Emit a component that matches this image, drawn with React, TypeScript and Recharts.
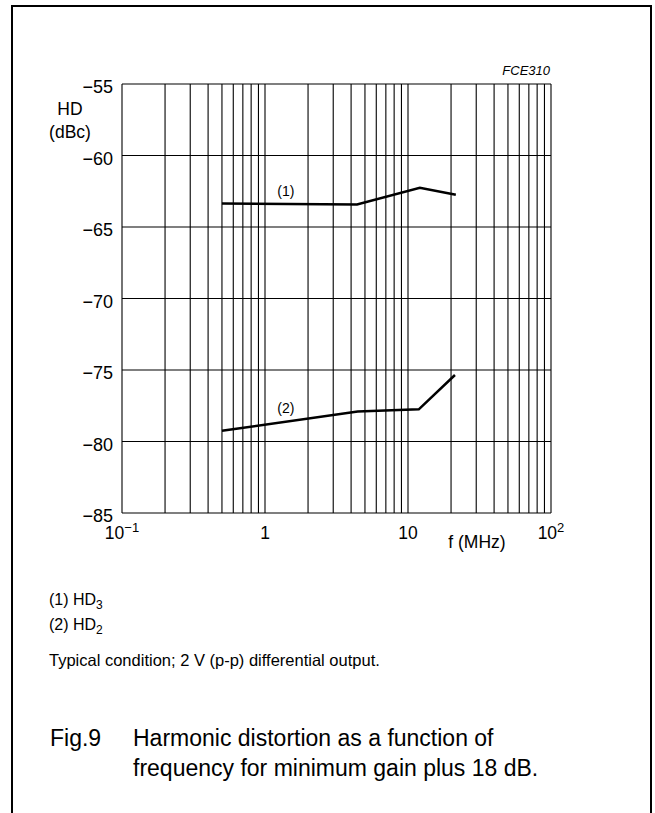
import React from 'react';
import { LineChart, Line, XAxis, YAxis, CartesianGrid, ReferenceDot } from 'recharts';

const FONT = '"Liberation Sans", Arial, Helvetica, sans-serif';

// frequency grid (MHz), log decades 0.1 .. 100
const freqTicks = [
  0.1, 0.2, 0.3, 0.4, 0.5, 0.6, 0.7, 0.8, 0.9,
  1, 2, 3, 4, 5, 6, 7, 8, 9,
  10, 20, 30, 40, 50, 60, 70, 80, 90,
  100,
];
const decadeTicks = [0.1, 1, 10, 100];
const decadeBase = ['10', '1', '10', '10'];
const decadeExp = ['\u22121', '', '', '2'];

const hdTicks = [-55, -60, -65, -70, -75, -80, -85];

// (1) HD3
const hd3Freq = [0.5, 4.4, 12.1, 21.6];
const hd3Values = [-63.35, -63.42, -62.25, -62.75];
// (2) HD2
const hd2Freq = [0.5, 4.45, 11.9, 21.3];
const hd2Values = [-79.25, -77.9, -77.75, -75.35];

const hd3Data = hd3Freq.map((f, i) => ({ f, hd: hd3Values[i] }));
const hd2Data = hd2Freq.map((f, i) => ({ f, hd: hd2Values[i] }));

function FreqTick(props: any) {
  const { x, y, payload } = props;
  const i = decadeTicks.indexOf(payload.value);
  if (i < 0) return <g />;
  return (
    <text x={x} y={y + 26} textAnchor="middle" fontSize={17.5} fontFamily={FONT} fill="#000">
      {decadeBase[i]}
      {decadeExp[i] && <tspan dy={-7} fontSize={13}>{decadeExp[i]}</tspan>}
    </text>
  );
}

function HdTick(props: any) {
  const { x, y, payload } = props;
  return (
    <text x={x - 9} y={y + 3} dy="0.355em" textAnchor="end" fontSize={18} fontFamily={FONT} fill="#000">
      {'\u2212' + Math.abs(payload.value)}
    </text>
  );
}

export default function App() {
  return (
    <div style={{ position: 'absolute', left: 0, top: 0, width: 655, height: 813, overflow: 'hidden', background: '#fff', fontFamily: FONT }}>
      <div style={{ position: 'absolute', left: 11, top: 5, width: 637, height: 810, borderTop: '2px solid #000', borderLeft: '2px solid #000', borderRight: '2px solid #000' }} />
      <LineChart
        width={655}
        height={813}
        margin={{ top: 84, right: 104, bottom: 260, left: 0 }}
        style={{ position: 'absolute', left: 0, top: 0, fontFamily: FONT }}
      >
        <CartesianGrid stroke="#000" strokeWidth={1.1} />
        <XAxis
          dataKey="f"
          type="number"
          scale="log"
          domain={[0.1, 100]}
          ticks={freqTicks}
          allowDataOverflow
          height={40}
          tickSize={0}
          tickMargin={0}
          axisLine={false}
          tickLine={false}
          interval={0}
          tick={<FreqTick />}
        />
        <YAxis
          type="number"
          domain={[-85, -55]}
          ticks={hdTicks}
          width={122}
          tickSize={0}
          tickMargin={0}
          axisLine={false}
          tickLine={false}
          interval={0}
          tick={<HdTick />}
        />
        <Line data={hd3Data} dataKey="hd" stroke="#000" strokeWidth={2.5} dot={false} isAnimationActive={false} />
        <Line data={hd2Data} dataKey="hd" stroke="#000" strokeWidth={2.5} dot={false} isAnimationActive={false} />
        <ReferenceDot x={1.4} y={-62.5} r={0} fill="none" stroke="none"
          label={{ value: '(1)', position: 'center', fontSize: 14, fill: '#000', fontFamily: FONT }} />
        <ReferenceDot x={1.4} y={-77.65} r={0} fill="none" stroke="none"
          label={{ value: '(2)', position: 'center', fontSize: 14, fill: '#000', fontFamily: FONT }} />
      </LineChart>
      <svg width={655} height={813} style={{ position: 'absolute', left: 0, top: 0, pointerEvents: 'none' }} fontFamily={FONT} fill="#000">
        <text x={550} y={75} textAnchor="end" fontSize={13} fontStyle="italic">FCE310</text>
        <text x={70} y={115} textAnchor="middle" fontSize={17.5}>HD</text>
        <text x={70} y={138} textAnchor="middle" fontSize={17.5}>(dBc)</text>
        <text x={477} y={548} textAnchor="middle" fontSize={17.5}>f (MHz)</text>
        <text x={49} y={605} fontSize={16}>
          (1) HD<tspan fontSize={12} dy={4}>3</tspan>
        </text>
        <text x={49} y={630} fontSize={16}>
          (2) HD<tspan fontSize={12} dy={4}>2</tspan>
        </text>
        <text x={49} y={666} fontSize={16.5}>Typical condition; 2 V (p-p) differential output.</text>
        <text x={50} y={746} fontSize={23}>Fig.9</text>
        <text x={133} y={746} fontSize={23}>Harmonic distortion as a function of</text>
        <text x={133} y={776} fontSize={23}>frequency for minimum gain plus 18 dB.</text>
      </svg>
    </div>
  );
}
